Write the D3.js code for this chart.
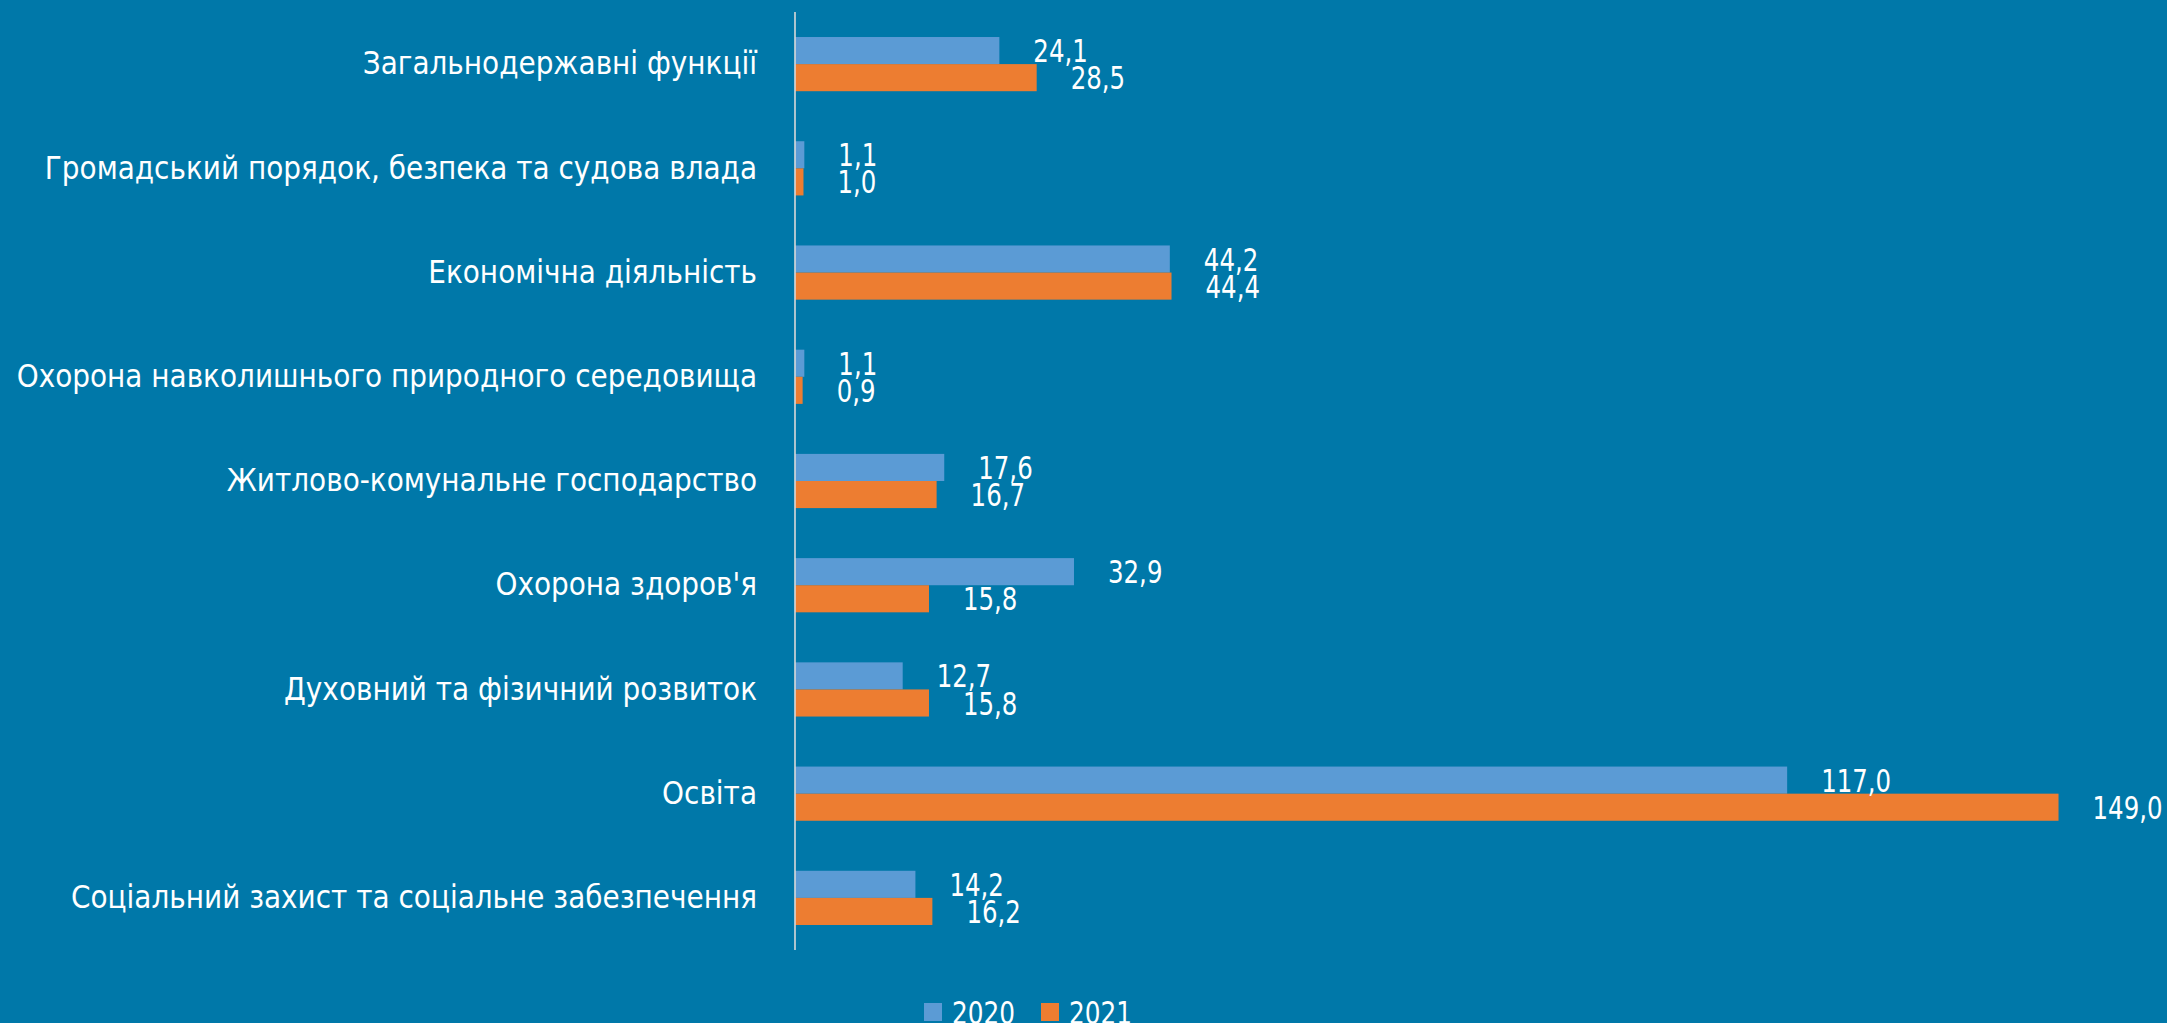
<!DOCTYPE html>
<html>
<head>
<meta charset="utf-8">
<script src="https://cdn.jsdelivr.net/npm/d3@7"></script>
<style>
  html, body { margin: 0; padding: 0; background: #0078A9; }
  svg { display: block; }
  text { font-family: "DejaVu Sans Condensed", "DejaVu Sans", sans-serif; fill: #fff; }
</style>
</head>
<body>
<div id="chart"></div>
<script>
const categories = [
  "Загальнодержавні функції",
  "Громадський порядок, безпека та судова влада",
  "Економічна діяльність",
  "Охорона навколишнього природного середовища",
  "Житлово-комунальне господарство",
  "Охорона здоров'я",
  "Духовний та фізичний розвиток",
  "Освіта",
  "Соціальний захист та соціальне забезпечення"
];
const years = ["2020", "2021"];
const values2020 = [24.1, 1.1, 44.2, 1.1, 17.6, 32.9, 12.7, 117.0, 14.2];
const values2021 = [28.5, 1.0, 44.4, 0.9, 16.7, 15.8, 15.8, 149.0, 16.2];
const colors = ["#5B9BD5", "#ED7D31"];

const width = 2167, height = 1023;

const svg = d3.select("#chart")
  .append("svg")
  .attr("width", width)
  .attr("height", height);

const x = d3.scaleLinear()
  .domain([0, 150])
  .range([795, 2067]);

const y = d3.scaleBand()
  .domain(categories)
  .range([12, 950])
  .paddingInner(0.48)
  .paddingOuter(0.24);

const ySub = d3.scaleBand()
  .domain(years)
  .range([0, y.bandwidth()]);

const color = d3.scaleOrdinal().domain(years).range(colors);

const rows = categories.map((c, i) => ({
  category: c,
  items: [
    { year: "2020", value: values2020[i] },
    { year: "2021", value: values2021[i] }
  ]
}));

const fmt = v => d3.format(".1f")(v).replace(".", ",");

const groups = svg.append("g")
  .selectAll("g")
  .data(rows)
  .join("g")
  .attr("transform", d => `translate(0,${y(d.category)})`);

groups.selectAll("rect")
  .data(d => d.items)
  .join("rect")
  .attr("x", x(0))
  .attr("y", d => ySub(d.year))
  .attr("width", d => x(d.value) - x(0))
  .attr("height", ySub.bandwidth())
  .attr("fill", d => color(d.year));

// value labels (narrow digits like the original)
groups.selectAll("text.val")
  .data(d => d.items)
  .join("text")
  .attr("class", "val")
  .attr("transform", d => `translate(${x(d.value) + 34},${ySub(d.year) + ySub.bandwidth() / 2}) scale(0.85,1)`)
  .attr("dy", "0.36em")
  .style("font-size", "32px")
  .text(d => fmt(d.value));

// category axis
const yAxis = d3.axisLeft(y).tickSize(0).tickPadding(38);
const axisG = svg.append("g")
  .attr("transform", `translate(${x(0)},0)`)
  .call(yAxis);
axisG.select(".domain").remove();
axisG.selectAll("text")
  .attr("x", 0)
  .attr("transform", "translate(-38,0) scale(0.97,1)")
  .style("font-size", "32px")
  .attr("fill", "#fff");

svg.append("line")
  .attr("x1", x(0)).attr("x2", x(0))
  .attr("y1", 12).attr("y2", 950)
  .attr("stroke", "#D9D9D9")
  .attr("stroke-width", 1.6);

// legend
const legend = svg.append("g").attr("transform", "translate(924,1003)");
const legendItems = legend.selectAll("g")
  .data(years)
  .join("g")
  .attr("transform", (d, i) => `translate(${i * 117},0)`);
legendItems.append("rect")
  .attr("width", 18).attr("height", 18)
  .attr("fill", d => color(d));
legendItems.append("text")
  .attr("transform", "translate(28,21) scale(0.86,1)")
  .style("font-size", "32px")
  .text(d => d);
</script>
</body>
</html>
